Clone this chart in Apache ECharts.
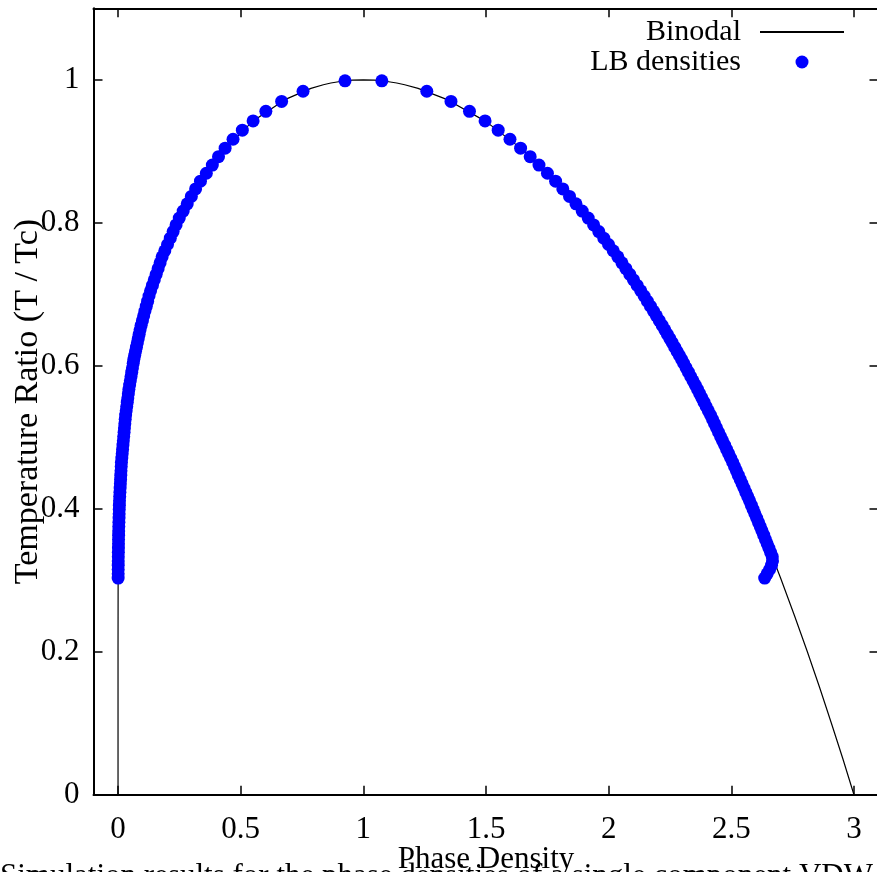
<!DOCTYPE html>
<html><head><meta charset="utf-8">
<script src="https://cdn.jsdelivr.net/npm/echarts@6/dist/echarts.min.js"></script>
<style>html,body{margin:0;padding:0;background:#fff;}#c{width:877px;height:872px;}</style>
</head><body><div id="c"></div>
<script>
// Binodal curve (reduced density, T/Tc)
const binodalX = [0, 0.0000, 0.0004, 0.0011, 0.0026, 0.0061, 0.0138, 0.0305, 0.0447, 0.0646, 0.0923, 0.1300, 0.1801, 0.2451, 0.3273, 0.4279, 0.5475, 0.6848, 0.7864, 0.8370, 0.8676, 0.9114, 0.9555, 1.0, 1.0449, 1.0902, 1.1360, 1.1685, 1.2232, 1.3370, 1.5004, 1.6543, 1.7960, 1.9237, 2.0369, 2.1362, 2.2225, 2.2970, 2.3613, 2.4167, 2.5060, 2.5736, 2.6258, 2.6670, 2.7001, 2.758, 2.810, 2.860, 2.908, 2.955, 3.0];
const binodalY = [0, 0.2, 0.3037, 0.3331, 0.3685, 0.4117, 0.4646, 0.5299, 0.5677, 0.6092, 0.6542, 0.7023, 0.7526, 0.8039, 0.8541, 0.9009, 0.9415, 0.9730, 0.988, 0.9931, 0.9955, 0.998, 0.9995, 1.0, 0.9995, 0.998, 0.9955, 0.9931, 0.988, 0.9730, 0.9415, 0.9009, 0.8541, 0.8039, 0.7526, 0.7023, 0.6542, 0.6092, 0.5677, 0.5299, 0.4646, 0.4117, 0.3685, 0.3331, 0.3037, 0.25, 0.2, 0.15, 0.1, 0.05, 0];

// LB simulation: temperature ratio, gas-phase density, liquid-phase density
const lbT = [0.9986,0.9840,0.9697,0.9559,0.9425,0.9295,0.9168,0.9044,0.8924,0.8807,0.8693,0.8582,0.8473,0.8368,0.8265,0.8164,0.8066,0.7970,0.7877,0.7785,0.7696,0.7609,0.7523,0.7440,0.7358,0.7279,0.7201,0.7124,0.7049,0.6976,0.6904,0.6834,0.6765,0.6698,0.6631,0.6566,0.6503,0.6440,0.6379,0.6319,0.6260,0.6202,0.6146,0.6090,0.6035,
  0.597,0.591,0.585,0.579,0.573,0.567,0.561,0.555,0.549,0.543,0.537,0.531,0.525,0.519,0.513,0.507,0.501,0.495,0.489,0.483,0.477,0.471,0.465,0.459,0.453,0.447,0.441,0.435,0.429,0.423,0.417,0.411,0.405,0.399,0.393,0.387,0.381,0.375,0.369,0.363,0.357,0.351,0.345,0.339,0.333,0.327,0.321,0.315,0.309,0.303];
const lbGas = [0.9253,0.7542,0.6669,0.6026,0.5506,0.5067,0.4688,0.4365,0.4096,0.3844,0.3599,0.3360,0.3162,0.2989,0.2821,0.2656,0.2496,0.2365,0.2246,0.2130,0.2017,0.1906,0.1798,0.1715,0.1634,0.1555,0.1477,0.1401,0.1327,0.1263,0.1207,0.1152,0.1098,0.1045,0.0994,0.0943,0.0899,0.0861,0.0823,0.0786,0.0750,0.0714,0.0679,0.0645,0.0619,
  0.0588,0.0559,0.0530,0.0501,0.0472,0.0444,0.0421,0.0399,0.0377,0.0354,0.0332,0.0309,0.0293,0.0277,0.0262,0.0247,0.0231,0.0216,0.0200,0.0185,0.0170,0.0154,0.0139,0.0130,0.0121,0.0112,0.0104,0.0095,0.0086,0.0077,0.0068,0.0060,0.0055,0.0050,0.0046,0.0041,0.0036,0.0031,0.0026,0.0024,0.0021,0.0019,0.0016,0.0014,0.0011,0.0010,0.0008,0.0007,0.0006,0.0005];
const lbLiq = [1.0754,1.2587,1.3573,1.4327,1.4962,1.5497,1.5978,1.6410,1.6801,1.7160,1.7505,1.7837,1.8132,1.8405,1.8668,1.8922,1.9167,1.9388,1.9598,1.9801,1.9996,2.0187,2.0375,2.0541,2.0703,2.0861,2.1014,2.1163,2.1310,2.1446,2.1577,2.1703,2.1826,2.1947,2.2065,2.2181,2.2289,2.2394,2.2496,2.2595,2.2692,2.2787,2.2881,2.2973,2.3058,
  2.3159,2.3252,2.3345,2.3438,2.3531,2.3623,2.3711,2.3799,2.3887,2.3975,2.4063,2.4151,2.4234,2.4316,2.4398,2.4480,2.4562,2.4645,2.4727,2.4809,2.4891,2.4973,2.5055,2.5132,2.5209,2.5285,2.5362,2.5438,2.5515,2.5591,2.5668,2.5744,2.5817,2.5889,2.5962,2.6034,2.6107,2.6180,2.6252,2.6322,2.6392,2.6462,2.6531,2.6601,2.6670,2.6680,2.6640,2.6560,2.6460,2.6360];

const xTickLabels = ['0','0.5','1','1.5','2','2.5','3'];
const yTickLabels = ['0','0.2','0.4','0.6','0.8','1'];

const FONT = 'Liberation Serif';
const chart = echarts.init(document.getElementById('c'), null, {renderer:'canvas'});

const binodalData = binodalX.map((x, i) => [x, binodalY[i]]);
const lbData = [];
lbT.forEach((t, i) => { lbData.push([lbGas[i], t]); });
lbT.forEach((t, i) => { lbData.push([lbLiq[i], t]); });

const lineStyleAxis = {color:'#000', width:2};
const tickStyle = {inside:true, length:9, lineStyle:{color:'#000', width:1.5}};
const labelFmt = list => (v => { const s = String(+v.toFixed(4)); return list.indexOf(s) >= 0 ? s : ''; });

chart.setOption({
  animation: false,
  backgroundColor: '#fff',
  grid: {left: 93.5, top: 8.3, width: 785, height: 786.4, containLabel: false, outerBoundsMode: 'none'},
  legend: {
    data: [{name:'Binodal', itemStyle:{opacity:0}}, {name:'LB densities'}],
    orient: 'vertical', right: 32, top: 17, align: 'right',
    itemWidth: 84, itemHeight: 13, itemGap: 0, padding: 0,
    selectedMode: false,
    textStyle: {fontFamily: FONT, fontSize: 30, color: '#000', lineHeight: 6, padding: [24, 14, 0, 0]}
  },
  xAxis: [
    {type:'value', min:-0.1, max:3.1, position:'bottom',
     axisLine:{show:true, onZero:false, lineStyle:lineStyleAxis},
     axisTick: tickStyle, splitLine:{show:false},
     axisLabel:{fontFamily:FONT, fontSize:31, color:'#000', margin:20, formatter: labelFmt(xTickLabels)},
     name:'Phase Density', nameLocation:'middle', nameGap:50, nameMoveOverlap:false,
     nameTextStyle:{fontFamily:FONT, fontSize:31, color:'#000'}},
    {type:'value', min:-0.1, max:3.1, position:'top',
     axisLine:{show:true, onZero:false, lineStyle:lineStyleAxis},
     axisTick: tickStyle, splitLine:{show:false}, axisLabel:{show:false}}
  ],
  yAxis: [
    {type:'value', min:0, max:1.1, interval:0.2, position:'left',
     axisLine:{show:true, onZero:false, lineStyle:lineStyleAxis},
     axisTick: tickStyle, splitLine:{show:false},
     axisLabel:{fontFamily:FONT, fontSize:31, color:'#000', margin:14, formatter: labelFmt(yTickLabels)},
     name:'Temperature Ratio (T / Tc)', nameLocation:'middle', nameGap:48, nameRotate:90, nameMoveOverlap:false,
     nameTextStyle:{fontFamily:FONT, fontSize:34, color:'#000'}},
    {type:'value', min:0, max:1.1, interval:0.2, position:'right',
     axisLine:{show:true, onZero:false, lineStyle:lineStyleAxis},
     axisTick: tickStyle, splitLine:{show:false}, axisLabel:{show:false}}
  ],
  series: [
    {name:'Binodal', type:'line', xAxisIndex:0, yAxisIndex:0, data: binodalData,
     symbol:'none', showSymbol:false, smooth:false, z:2,
     lineStyle:{color:'#000', width:1.2}, itemStyle:{color:'#000'}},
    {name:'LB densities', type:'scatter', xAxisIndex:0, yAxisIndex:0, data: lbData,
     symbol:'circle', symbolSize:13, z:3, itemStyle:{color:'#0000ff', opacity:1}}
  ],
  graphic: [
    {type:'text', left: 0, top: 861, silent:true,
     style:{text:'Simulation results for the phase densities of a single component VDW fluid.', fontFamily:FONT, fontSize:31, fill:'#000'}}
  ]
});
</script></body></html>
